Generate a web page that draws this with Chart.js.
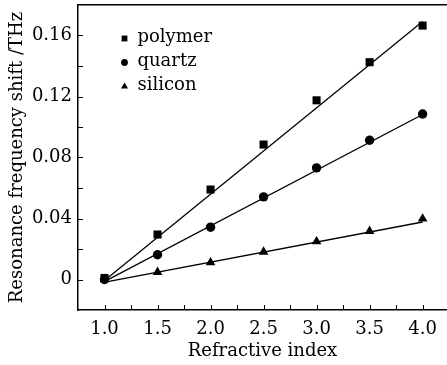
<!DOCTYPE html>
<html>
<head>
<meta charset="utf-8">
<script src="https://cdn.jsdelivr.net/npm/chart.js@4/dist/chart.umd.min.js"></script>
<style>
  html, body { margin: 0; padding: 0; background: #ffffff; overflow: hidden; }
  #wrap { width: 447px; height: 365px; }
  canvas { display: block; }
</style>
</head>
<body>
<div id="wrap"><canvas id="c" width="447" height="365"></canvas></div>
<script>
// ---- data ----
const refractiveIndex = [1.0, 1.5, 2.0, 2.5, 3.0, 3.5, 4.0];
const polymer = [0.001, 0.0295, 0.059, 0.0885, 0.1175, 0.1425, 0.1665];
const quartz  = [0.000, 0.0162, 0.0343, 0.0542, 0.0732, 0.0913, 0.1085];
const silicon = [0.000, 0.0048, 0.0111, 0.0181, 0.0249, 0.0317, 0.0398];
// fitted straight lines (end points)
const fitX = [0.98, 4.0];
const polymerFit = [-0.0018, 0.1692];
const quartzFit  = [-0.0020, 0.1082];
const siliconFit = [-0.0020, 0.0377];
const seriesNames = ['polymer', 'quartz', 'silicon'];
const xTickLabels = ['1.0', '1.5', '2.0', '2.5', '3.0', '3.5', '4.0'];
const yTickLabels = ['0', '0.04', '0.08', '0.12', '0.16'];

const FONT = "'DejaVu Serif', serif";
const toPts = (xs, ys) => xs.map((x, i) => ({x: x, y: ys[i]}));

const markerStyles = ['rect', 'circle', 'triangle'];
const markerRadius = [5.7, 4.7, 5.6];

const pointSets = [polymer, quartz, silicon].map((vals, i) => ({
  label: seriesNames[i],
  data: toPts(refractiveIndex, vals),
  showLine: false,
  pointStyle: markerStyles[i],
  pointRadius: markerRadius[i],
  pointHoverRadius: markerRadius[i],
  backgroundColor: '#000',
  borderColor: '#000',
  borderWidth: 0,
  order: 0
}));
const lineSets = [polymerFit, quartzFit, siliconFit].map((vals, i) => ({
  label: seriesNames[i] + ' fit',
  data: toPts(fitX, vals),
  showLine: true,
  pointRadius: 0,
  borderColor: '#000',
  borderWidth: 1.3,
  fill: false,
  order: 1
}));

// inward tick marks drawn from the library's scales
const inwardTicks = {
  id: 'inwardTicks',
  afterDatasetsDraw(chart) {
    const ctx = chart.ctx, a = chart.chartArea;
    const xs = chart.scales.x, ys = chart.scales.y;
    ctx.save();
    ctx.strokeStyle = '#000';
    ctx.lineWidth = 1;
    xs.ticks.forEach(t => {
      const px = Math.round(xs.getPixelForValue(t.value)) + 0.5;
      ctx.beginPath(); ctx.moveTo(px, a.bottom); ctx.lineTo(px, a.bottom - 5); ctx.stroke();
    });
    ys.ticks.forEach(t => {
      const py = Math.round(ys.getPixelForValue(t.value)) + 0.5;
      ctx.beginPath(); ctx.moveTo(a.left, py); ctx.lineTo(a.left + 5, py); ctx.stroke();
    });
    ctx.restore();
  }
};

// legend placed inside the plot area
const innerLegend = {
  id: 'innerLegend',
  afterDraw(chart) {
    const ctx = chart.ctx;
    const xs = chart.scales.x, ys = chart.scales.y;
    const mx = xs.getPixelForValue(1.0) + 20;
    const y0 = ys.getPixelForValue(0.16) + 2;
    const dy = 24;
    ctx.save();
    ctx.fillStyle = '#000';
    ctx.font = '18px ' + FONT;
    ctx.textBaseline = 'middle';
    ctx.textAlign = 'left';
    seriesNames.forEach((name, i) => {
      const cy = y0 + i * dy;
      Chart.helpers.drawPoint(ctx, {pointStyle: markerStyles[i], radius: markerRadius[i] * 0.72, rotation: 0, borderWidth: 0}, mx, cy + 1);
      ctx.fillText(name, mx + 13, cy);
    });
    ctx.restore();
  }
};

new Chart(document.getElementById('c'), {
  type: 'scatter',
  data: { datasets: [...pointSets, ...lineSets] },
  options: {
    responsive: false,
    animation: false,
    events: [],
    layout: { autoPadding: false, padding: { top: 5, right: 0, left: 0, bottom: 0 } },
    plugins: { legend: { display: false }, tooltip: { enabled: false } },
    scales: {
      x: {
        type: 'linear',
        min: 0.75, max: 4.23,
        afterFit(s) { s.height = 55; s.paddingRight = 0; s.paddingLeft = 0; },
        afterBuildTicks(s) {
          const t = [];
          for (let v = 1.0; v <= 4.001; v += 0.25) t.push({value: Math.round(v * 100) / 100});
          s.ticks = t;
        },
        ticks: {
          autoSkip: false,
          maxRotation: 0,
          color: '#000',
          font: { family: FONT, size: 18 },
          padding: 9,
          callback(v) {
            const i = xTickLabels.indexOf(Number(v).toFixed(1));
            return (Math.abs(v * 2 - Math.round(v * 2)) < 1e-6 && i >= 0) ? xTickLabels[i] : '';
          }
        },
        grid: { display: true, drawOnChartArea: false, drawTicks: false, color: 'rgba(0,0,0,0)' },
        border: { display: true, color: '#000', width: 1.5 },
        title: { display: true, text: 'Refractive index', color: '#000', font: { family: FONT, size: 18 }, padding: { top: 0, bottom: 3 } }
      },
      x2: {
        type: 'linear', position: 'top', min: 0.75, max: 4.23,
        afterFit(s) { s.height = 0; s.paddingRight = 0; s.paddingLeft = 0; },
        ticks: { display: false },
        grid: { display: false, drawTicks: false },
        border: { display: true, color: '#000', width: 1.5 }
      },
      y: {
        type: 'linear',
        min: -0.02, max: 0.18,
        afterFit(s) { s.width = 78; s.paddingTop = 0; s.paddingBottom = 0; },
        afterBuildTicks(s) {
          const t = [];
          for (let k = 0; k <= 8; k++) t.push({value: Math.round(k * 2) / 100});
          s.ticks = t;
        },
        ticks: {
          autoSkip: false,
          color: '#000',
          font: { family: FONT, size: 18 },
          padding: 6,
          callback(v) {
            const k = Math.round(v * 100);
            if (k % 4 !== 0) return '';
            return yTickLabels[k / 4];
          }
        },
        grid: { display: true, drawOnChartArea: false, drawTicks: false, color: 'rgba(0,0,0,0)' },
        border: { display: true, color: '#000', width: 1.5 },
        title: { display: true, text: 'Resonance frequency shift /THz', color: '#000', font: { family: FONT, size: 18 }, padding: { top: 7, bottom: 0 } }
      }
    }
  },
  plugins: [inwardTicks, innerLegend]
});
</script>
</body>
</html>
